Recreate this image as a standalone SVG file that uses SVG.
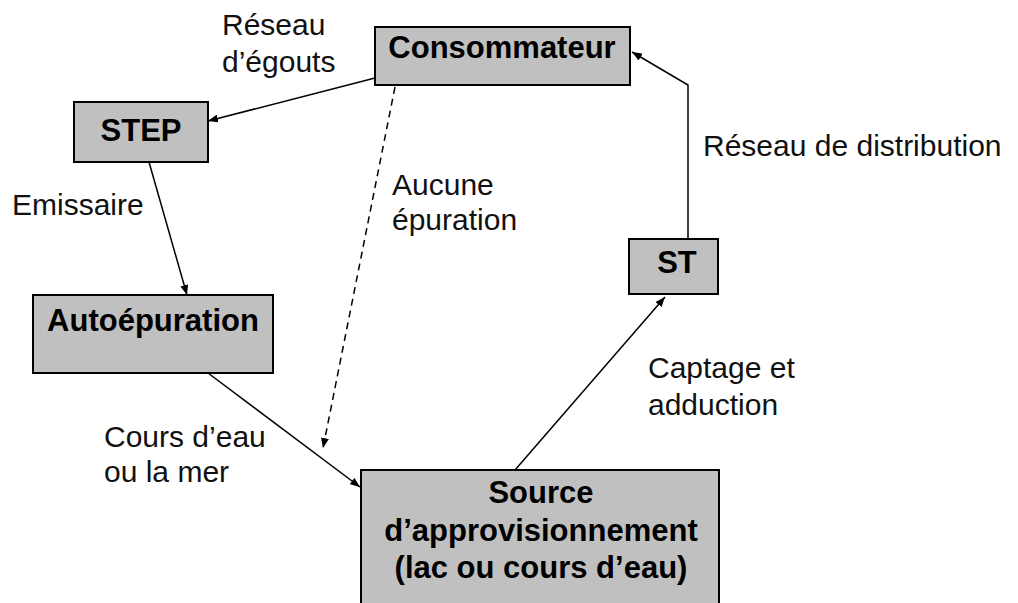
<svg xmlns="http://www.w3.org/2000/svg" width="1018" height="603" viewBox="0 0 1018 603">
<style>
.box{fill:#c0c0c0;stroke:#000;stroke-width:2}
.nt{font-family:"Liberation Sans",Arial,sans-serif;font-size:31px;font-weight:bold;fill:#000;text-anchor:middle}
.lb{font-family:"Liberation Sans",Arial,sans-serif;font-size:30px;fill:#111}
.ln{fill:none;stroke:#000;stroke-width:1.5}
.dash{stroke-dasharray:7,5}
</style>
<defs>
<marker id="ah" viewBox="0 0 10 8" refX="10" refY="4" markerWidth="10" markerHeight="8" markerUnits="userSpaceOnUse" orient="auto">
<path d="M0,0 L10,4 L0,8 Z" fill="#000"/>
</marker>
</defs>
<rect width="1018" height="603" fill="#fff"/>
<g id="connectors">
<path class="ln" d="M375,78 L208,121" marker-end="url(#ah)"/>
<path class="ln" d="M149,162 L187,295" marker-end="url(#ah)"/>
<path class="ln" d="M208,373 L360,487" marker-end="url(#ah)"/>
<path class="ln dash" d="M395,87 L323,448" marker-end="url(#ah)"/>
<path class="ln" d="M515,470 L665,297" marker-end="url(#ah)"/>
<path class="ln" d="M688,239 L688,85 L632,52" marker-end="url(#ah)"/>
</g>
<g id="labels">
<text class="lb" x="222" y="35">Réseau</text>
<text class="lb" x="222" y="72">d’égouts</text>
<text class="lb" x="12" y="215">Emissaire</text>
<text class="lb" x="392" y="195">Aucune</text>
<text class="lb" x="392" y="230">épuration</text>
<text class="lb" x="703" y="156">Réseau de distribution</text>
<text class="lb" x="648" y="378">Captage et</text>
<text class="lb" x="648" y="415">adduction</text>
<text class="lb" x="104" y="447">Cours d’eau</text>
<text class="lb" x="104" y="482">ou la mer</text>
</g>
<g id="consommateur">
<rect class="box" x="375" y="27" width="255" height="58"/>
<text class="nt" x="502" y="58">Consommateur</text>
</g>
<g id="step">
<rect class="box" x="74" y="102" width="134" height="60"/>
<text class="nt" x="141" y="141">STEP</text>
</g>
<g id="autoepuration">
<rect class="box" x="33" y="295" width="240" height="78"/>
<text class="nt" x="153" y="331">Autoépuration</text>
</g>
<g id="st">
<rect class="box" x="629" y="239" width="89" height="55"/>
<text class="nt" x="677" y="273">ST</text>
</g>
<g id="source">
<rect class="box" x="361" y="470" width="358" height="140"/>
<text class="nt" x="541" y="503">Source</text>
<text class="nt" x="541" y="541">d’approvisionnement</text>
<text class="nt" x="541" y="578">(lac ou cours d’eau)</text>
</g>
</svg>
